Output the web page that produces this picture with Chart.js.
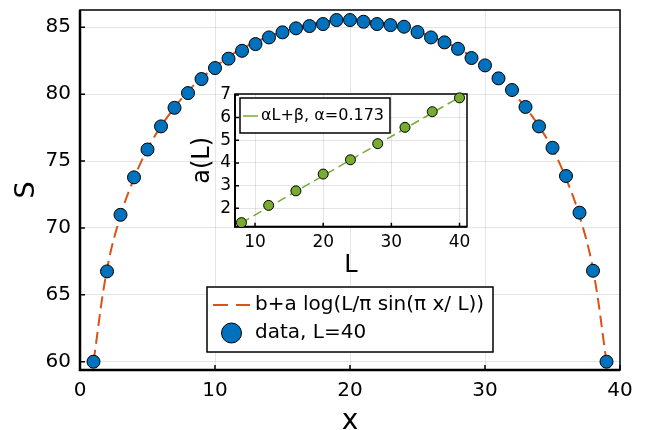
<!DOCTYPE html>
<html>
<head>
<meta charset="utf-8">
<script src="https://cdn.jsdelivr.net/npm/chart.js@4.4.1/dist/chart.umd.min.js"></script>
<style>
  html, body { margin: 0; padding: 0; background: #fff; }
  #wrap { position: relative; width: 646px; height: 430px; }
  #main { position: absolute; left: 0; top: 0; }
  #inset { position: absolute; left: 185px; top: 84px; }
</style>
</head>
<body>
<div id="wrap">
  <canvas id="main" width="646" height="430"></canvas>
  <canvas id="inset" width="290" height="196"></canvas>
</div>
<script>
// main panel: entropy S(x) for L = 40
const xVals = [1,2,3,4,5,6,7,8,9,10,11,12,13,14,15,16,17,18,19,20,
               21,22,23,24,25,26,27,28,29,30,31,32,33,34,35,36,37,38,39];
const sData = [60.0,66.75,70.98,73.78,75.86,77.59,78.98,80.08,81.13,81.95,
               82.65,83.24,83.74,84.24,84.62,84.92,85.09,85.24,85.54,85.54,
               85.41,85.24,85.16,85.04,84.64,84.24,83.87,83.39,82.70,82.15,
               81.18,80.31,79.04,77.59,75.99,73.88,71.14,66.80,60.0];
const sFit = [60.0,66.9,70.9,73.7,75.9,77.6,79.0,80.2,81.2,82.0,
              82.8,83.4,83.9,84.3,84.7,85.0,85.2,85.4,85.5,85.5,
              85.5,85.4,85.2,85.0,84.7,84.3,83.9,83.4,82.8,82.0,
              81.2,80.2,79.0,77.6,75.9,73.7,70.9,66.9,60.0];
const xTicks = [0, 10, 20, 30, 40];
const sTicks = [60, 65, 70, 75, 80, 85];

// inset: slope a(L)
const Ls = [8, 12, 16, 20, 24, 28, 32, 36, 40];
const aData = [1.37, 2.13, 2.77, 3.51, 4.14, 4.85, 5.57, 6.26, 6.87];
const fitL = [8, 40];
const aFit = [1.36, 6.90];
const LTicks = [10, 20, 30, 40];
const aTicks = [2, 3, 4, 5, 6, 7];

const blue = '#0072BD', orange = '#D95319', green = '#77AC30';
const FONT = 'DejaVu Sans';
const gridColor = 'rgba(0,0,0,0.1)';

const pts = (xs, ys) => xs.map((x, i) => ({x: x, y: ys[i]}));

// box frame (heavier left/bottom axes) + inward ticks
const framePlugin = {
  id: 'frame',
  beforeDatasetsDraw(chart, args, opts) {
    const {ctx, chartArea: a, scales} = chart;
    ctx.save();
    ctx.strokeStyle = '#000';
    ctx.lineWidth = opts.width;
    ctx.strokeRect(a.left, a.top, a.right - a.left, a.bottom - a.top);
    ctx.lineWidth = opts.axis;
    ctx.beginPath();
    ctx.moveTo(a.left, a.top); ctx.lineTo(a.left, a.bottom); ctx.lineTo(a.right, a.bottom);
    ctx.stroke();
    ctx.lineWidth = opts.width;
    ctx.beginPath();
    scales.x.ticks.forEach(t => {
      const px = scales.x.getPixelForValue(t.value);
      ctx.moveTo(px, a.bottom); ctx.lineTo(px, a.bottom - opts.tick);
    });
    scales.y.ticks.forEach(t => {
      const py = scales.y.getPixelForValue(t.value);
      ctx.moveTo(a.left, py); ctx.lineTo(a.left + opts.tick, py);
    });
    ctx.stroke();
    ctx.restore();
  }
};

const whiteArea = {
  id: 'whiteArea',
  beforeDraw(chart, args, opts) {
    if (!opts.on) return;
    const {ctx, chartArea: a} = chart;
    ctx.save();
    ctx.fillStyle = '#fff';
    ctx.fillRect(a.left, a.top, a.right - a.left, a.bottom - a.top);
    ctx.restore();
  }
};

// legend box drawn inside the plot
const boxLegend = {
  id: 'boxLegend',
  afterDraw(chart, args, o) {
    if (!o.items) return;
    const ctx = chart.ctx;
    ctx.save();
    ctx.fillStyle = '#fff';
    ctx.fillRect(o.x, o.y, o.w, o.h);
    ctx.strokeStyle = '#000';
    ctx.lineWidth = 1.5;
    ctx.strokeRect(o.x, o.y, o.w, o.h);
    ctx.font = o.size + 'px "' + FONT + '"';
    ctx.textBaseline = 'middle';
    o.items.forEach((it, i) => {
      const ds = chart.data.datasets[it.ds];
      const cy = o.y + o.rowY[i];
      if (it.kind === 'line') {
        ctx.strokeStyle = ds.borderColor;
        ctx.lineWidth = ds.borderWidth;
        ctx.setLineDash(it.dash || []);
        ctx.beginPath();
        ctx.moveTo(o.x + o.s0, cy); ctx.lineTo(o.x + o.s1, cy);
        ctx.stroke();
        ctx.setLineDash([]);
      } else {
        ctx.fillStyle = ds.backgroundColor;
        ctx.strokeStyle = '#000';
        ctx.lineWidth = 1;
        ctx.beginPath();
        ctx.arc(o.x + (o.s0 + o.s1) / 2, cy, it.r, 0, Math.PI * 2);
        ctx.fill(); ctx.stroke();
      }
      ctx.fillStyle = '#000';
      ctx.fillText(ds.label, o.x + o.tx, cy);
    });
    ctx.restore();
  }
};

Chart.register(framePlugin, whiteArea, boxLegend);

const ticksFrom = arr => s => { s.ticks = arr.map(v => ({value: v})); };
// fixed axis box, no extra label overhang padding
const fitTo = (prop, size) => s => {
  s[prop] = size;
  s.paddingTop = 0; s.paddingBottom = 0; s.paddingLeft = 0; s.paddingRight = 0;
};

new Chart(document.getElementById('main'), {
  type: 'scatter',
  data: {
    datasets: [
      {
        label: 'data, L=40',
        data: pts(xVals, sData),
        backgroundColor: blue,
        borderColor: '#000',
        borderWidth: 1,
        pointRadius: 6.5,
        pointHoverRadius: 6.5,
        showLine: false,
        order: 0,
        clip: false
      },
      {
        label: 'b+a log(L/\u03C0 sin(\u03C0 x/ L))',
        data: pts(xVals, sFit),
        borderColor: orange,
        borderWidth: 2,
        borderDash: [12, 6],
        pointRadius: 0,
        showLine: true,
        tension: 0.4,
        order: 1
      }
    ]
  },
  options: {
    responsive: false,
    animation: false,
    layout: {padding: {left: 0, right: 26, top: 10, bottom: 0}},
    plugins: {
      legend: {display: false},
      tooltip: {enabled: false},
      frame: {width: 1.5, axis: 2.5, tick: 5},
      boxLegend: {
        x: 207, y: 287, w: 286, h: 65, size: 20,
        s0: 6, s1: 43, tx: 48, rowY: [18, 46],
        items: [{ds: 1, kind: 'line', dash: [15, 8]}, {ds: 0, kind: 'marker', r: 10}]
      }
    },
    scales: {
      x: {
        type: 'linear', min: 0, max: 40,
        afterBuildTicks: ticksFrom(xTicks),
        afterFit: fitTo('height', 60),
        grid: {color: gridColor, drawTicks: false},
        border: {display: false},
        ticks: {color: '#000', padding: 9, font: {family: FONT, size: 20}},
        title: {display: true, text: 'x', color: '#000', padding: 0,
                font: {family: FONT, size: 28, lineHeight: 0.6}}
      },
      y: {
        type: 'linear', min: 59.38, max: 86.29,
        afterBuildTicks: ticksFrom(sTicks),
        afterFit: fitTo('width', 80),
        grid: {color: gridColor, drawTicks: false},
        border: {display: false},
        ticks: {color: '#000', padding: 9, font: {family: FONT, size: 20}},
        title: {display: true, text: 'S', color: '#000', padding: {top: 11, bottom: 0},
                font: {family: FONT, size: 27, lineHeight: 1.2}}
      }
    }
  }
});

new Chart(document.getElementById('inset'), {
  type: 'scatter',
  data: {
    datasets: [
      {
        label: 'a(L)',
        data: pts(Ls, aData),
        backgroundColor: green,
        borderColor: '#000',
        borderWidth: 1,
        pointRadius: 5,
        pointHoverRadius: 5,
        showLine: false,
        order: 0,
        clip: false
      },
      {
        label: '\u03B1L+\u03B2, \u03B1=0.173',
        data: pts(fitL, aFit),
        borderColor: green,
        borderWidth: 1.5,
        borderDash: [9, 5],
        pointRadius: 0,
        showLine: true,
        order: 1
      }
    ]
  },
  options: {
    responsive: false,
    animation: false,
    layout: {padding: {left: 0, right: 8, top: 10, bottom: 0}},
    plugins: {
      legend: {display: false},
      tooltip: {enabled: false},
      whiteArea: {on: true},
      frame: {width: 1.5, axis: 2, tick: 4},
      boxLegend: {
        x: 55, y: 14, w: 150, h: 35, size: 16,
        s0: 3, s1: 18, tx: 21, rowY: [18],
        items: [{ds: 1, kind: 'line'}]
      }
    },
    scales: {
      x: {
        type: 'linear', min: 7.06, max: 41.1,
        afterBuildTicks: ticksFrom(LTicks),
        afterFit: fitTo('height', 53.3),
        grid: {color: gridColor, drawTicks: false},
        border: {display: false},
        ticks: {color: '#000', padding: 6, font: {family: FONT, size: 17}},
        title: {display: true, text: 'L', color: '#000', padding: 0,
                font: {family: FONT, size: 24, lineHeight: 1.2}}
      },
      y: {
        type: 'linear', min: 1.19, max: 7.04,
        afterBuildTicks: ticksFrom(aTicks),
        afterFit: fitTo('width', 50),
        grid: {color: gridColor, drawTicks: false},
        border: {display: false},
        ticks: {color: '#000', padding: 4, font: {family: FONT, size: 17}},
        title: {display: true, text: 'a(L)', color: '#000', padding: {top: 3, bottom: 0},
                font: {family: FONT, size: 24, lineHeight: 1.2}}
      }
    }
  }
});
</script>
</body>
</html>
